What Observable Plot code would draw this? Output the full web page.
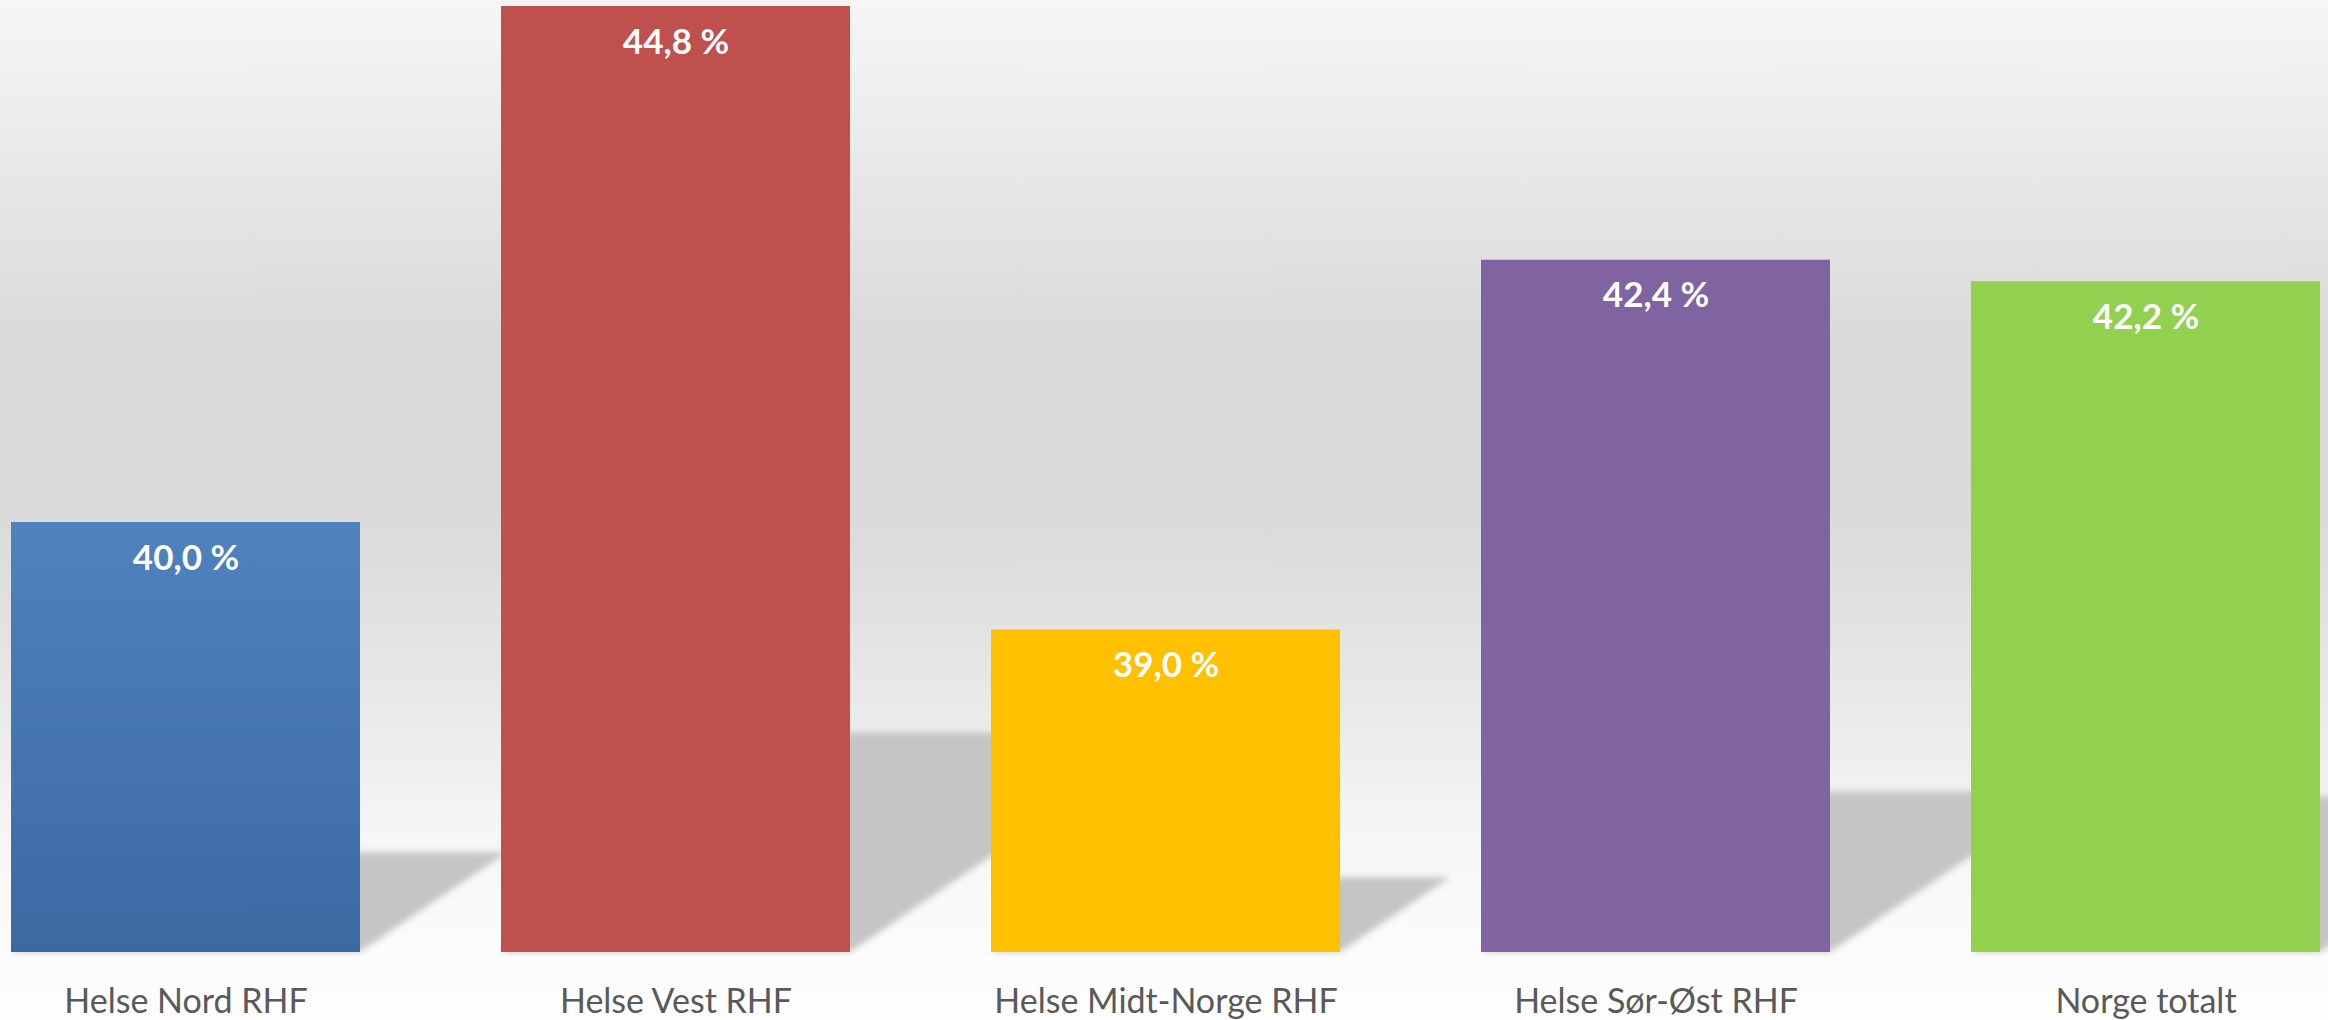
<!DOCTYPE html>
<html>
<head>
<meta charset="utf-8">
<script src="https://cdn.jsdelivr.net/npm/d3@7"></script>
<script src="https://cdn.jsdelivr.net/npm/@observablehq/plot@0.6"></script>
<style>
html, body { margin: 0; padding: 0; background: #ffffff; }
#chart svg { display: block; }
</style>
</head>
<body>
<div id="chart"></div>
<script>
// ---- data ----
const categories = ["Helse Nord RHF", "Helse Vest RHF", "Helse Midt-Norge RHF", "Helse Sør-Øst RHF", "Norge totalt"];
const values = [40.0, 44.8, 39.0, 42.44, 42.24];
const valueLabels = ["40,0 %", "44,8 %", "39,0 %", "42,4 %", "42,2 %"];
const barColors = ["url(#gradNord)", "#C0504D", "#FFC000", "#8064A2", "#92D050"];
const yDomain = [36, 44.856];

const data = categories.map((c, i) => ({ category: c, value: values[i], label: valueLabels[i], color: barColors[i] }));

// perspective shadow cast behind each bar (derived from the bar through the plot scales)
const shadowMark = (index, scales) => {
  const x = scales.x, y = scales.y;
  const bw = x.bandwidth();
  const g = d3.create("svg:g").attr("filter", "url(#shadowBlur)");
  for (const d of data) {
    const x0 = x(d.category), x1 = x0 + bw;
    const yb = y(yDomain[0]), yt = y(d.value);
    const h = yb - yt;
    const sh = 0.232 * h, dx = 0.341 * h;
    g.append("path")
      .attr("d", `M${x0},${yb}L${x1},${yb}L${x1 + dx},${yb - sh}L${x0 + dx},${yb - sh}Z`)
      .attr("fill", "#c5c5c5");
  }
  return g.node();
};

const svg = Plot.plot({
  width: 2328,
  height: 1020,
  marginTop: 0,
  marginBottom: 68,
  marginLeft: 11,
  marginRight: 8,
  style: {
    background: "linear-gradient(to bottom, #f6f6f6 0%, #ececec 12%, #dadada 33%, #d9d9d9 48%, #dedede 56%, #ebebeb 71%, #f5f5f5 81%, #f8f8f8 86%, #fcfcfc 94%, #fdfdfd 100%)",
    fontFamily: "Lato, 'Open Sans', sans-serif",
    fontSize: "34px",
    color: "#595959",
    overflow: "hidden"
  },
  x: { domain: categories, paddingInner: 0.288, paddingOuter: 0, tickSize: 0, tickPadding: 36, label: null },
  y: { domain: yDomain, axis: null },
  color: { type: "identity" },
  marks: [
    shadowMark,
    Plot.barY(data, { x: "category", y1: yDomain[0], y2: "value", fill: "color" }),
    Plot.text(data, { x: "category", y: "value", text: "label", fill: "white", fontWeight: "bold", fontSize: 35, dy: 36, lineAnchor: "middle" })
  ]
});

// gradient & blur definitions
const defs = d3.create("svg:defs");
const grad = defs.append("linearGradient").attr("id", "gradNord").attr("x1", 0).attr("y1", 0).attr("x2", 0).attr("y2", 1);
grad.append("stop").attr("offset", "0%").attr("stop-color", "#5082be");
grad.append("stop").attr("offset", "100%").attr("stop-color", "#3c69a2");
defs.append("filter").attr("id", "shadowBlur").attr("x", "-20%").attr("y", "-20%").attr("width", "140%").attr("height", "140%")
  .append("feGaussianBlur").attr("stdDeviation", 3);
svg.insertBefore(defs.node(), svg.firstChild);

document.getElementById("chart").appendChild(svg);
</script>
</body>
</html>
